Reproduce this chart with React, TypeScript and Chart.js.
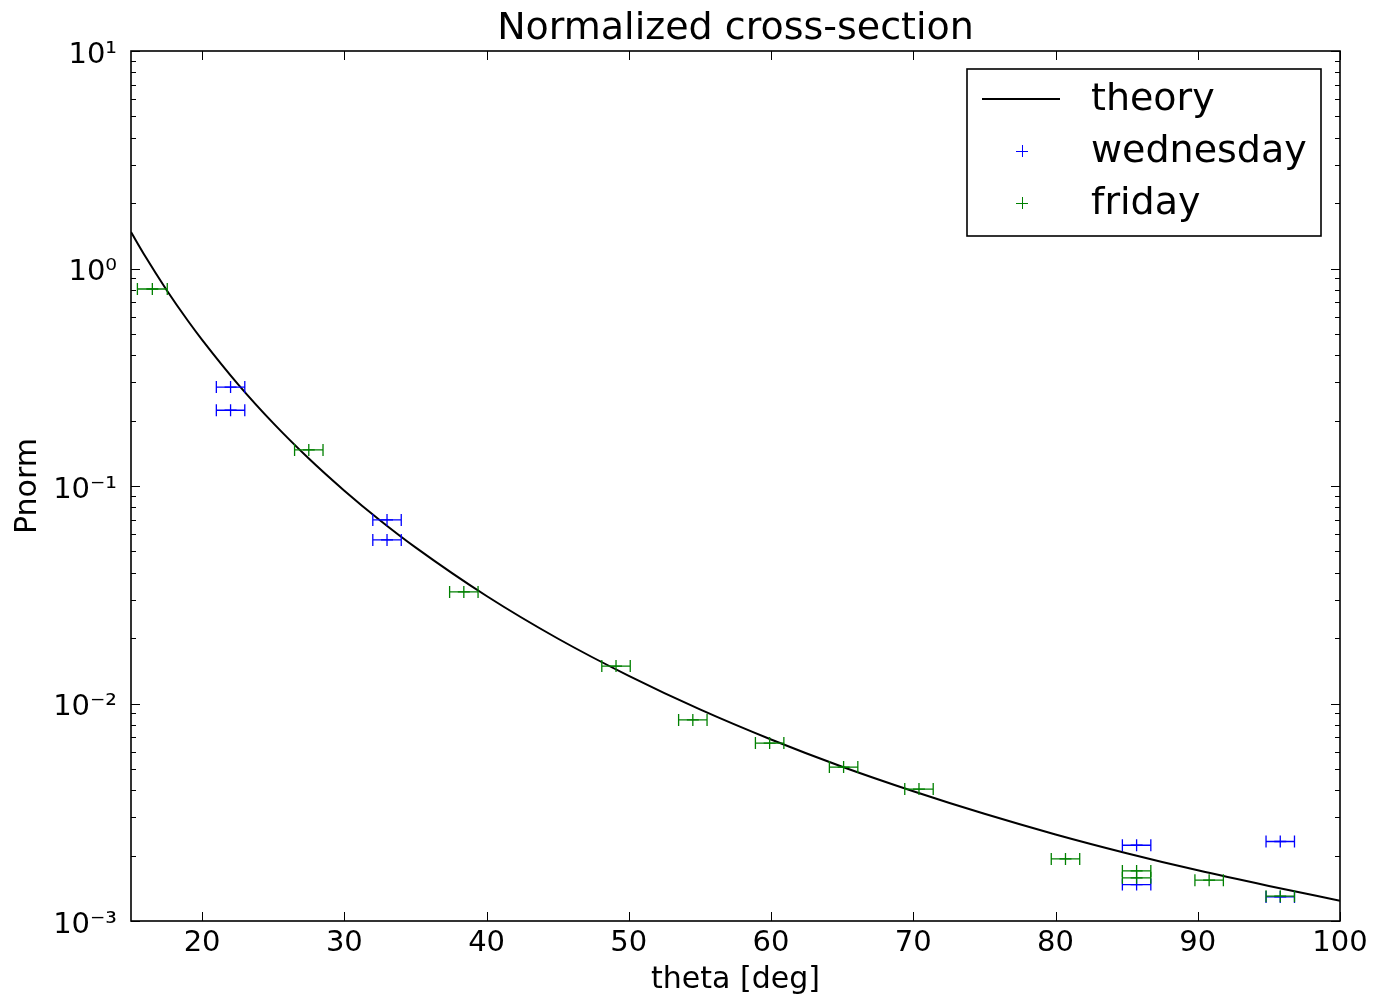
import React, { useEffect, useRef } from "react";
import { Chart, registerables } from "chart.js";

Chart.register(...registerables);

// ---- data ----
const TITLE = "Normalized cross-section";
const X_TICKS = [20, 30, 40, 50, 60, 70, 80, 90, 100];
const Y_TICKS = [0.001, 0.01, 0.1, 1, 10];
const Y_TICK_LABELS = ["10⁻³", "10⁻²", "10⁻¹", "10⁰", "10¹"];

const THEORY_X = [15, 16, 17.5, 19, 20, 22.5, 25, 27.5, 30, 32.5, 35, 40, 45, 50, 55, 60, 65, 70, 75, 80, 85, 90, 95, 100];
const THEORY_Y = [1.471, 1.138, 0.797, 0.575, 0.47, 0.295, 0.1946, 0.1338, 0.0952, 0.0696, 0.0522, 0.0312, 0.0199, 0.0134, 0.00939, 0.00683, 0.00512, 0.00395, 0.00311, 0.0025, 0.00205, 0.00171, 0.00145, 0.00124];

const WED_X = [22.0, 22.0, 33.0, 33.0, 85.7, 85.7, 95.8, 95.8];
const WED_Y = [0.285, 0.223, 0.0698, 0.0565, 0.00223, 0.00147, 0.00232, 0.00129];
const WED_XERR = [1, 1, 1, 1, 1, 1, 1, 1];

const FRI_X = [16.5, 27.5, 38.4, 49.1, 54.5, 59.9, 65.1, 70.4, 80.7, 85.7, 85.7, 90.8, 95.8];
const FRI_Y = [0.805, 0.1465, 0.0326, 0.01486, 0.0084, 0.00658, 0.0051, 0.00404, 0.00193, 0.0017, 0.00158, 0.00154, 0.0013];
const FRI_XERR = [1.05, 1, 1, 1, 1, 1, 1, 1, 1, 1, 1, 1, 1];

const BLUE = "#0000ff";
const GREEN = "#008000";
const FONT = "'DejaVu Sans', sans-serif";

const pts = (xs: number[], ys: number[]) => xs.map((x, i) => ({ x, y: ys[i] }));

const decorPlugin = {
  id: "decor",
  afterDatasetsDraw(chart: any) {
    const ctx = chart.ctx;
    const xs = chart.scales.x;
    const ys = chart.scales.y;
    chart.data.datasets.forEach((ds: any) => {
      if (!ds.xerr) return;
      ctx.save();
      ctx.strokeStyle = ds.borderColor;
      ctx.lineWidth = 1.3;
      ds.data.forEach((p: any, i: number) => {
        const e = ds.xerr[i];
        const x0 = xs.getPixelForValue(p.x - e);
        const x1 = xs.getPixelForValue(p.x + e);
        const y = ys.getPixelForValue(p.y);
        ctx.beginPath();
        ctx.moveTo(x0, y);
        ctx.lineTo(x1, y);
        ctx.moveTo(x0, y - 6);
        ctx.lineTo(x0, y + 6);
        ctx.moveTo(x1, y - 6);
        ctx.lineTo(x1, y + 6);
        ctx.stroke();
      });
      ctx.restore();
    });
  },
  afterDraw(chart: any) {
    const ctx = chart.ctx;
    const ca = chart.chartArea;
    const xs = chart.scales.x;
    const ys = chart.scales.y;
    ctx.save();
    // title
    ctx.fillStyle = "#000";
    ctx.font = `38px ${FONT}`;
    ctx.textAlign = "center";
    ctx.textBaseline = "middle";
    ctx.fillText(TITLE, (ca.left + ca.right) / 2, 29);

    ctx.strokeStyle = "#000";
    // ticks
    ctx.lineWidth = 1;
    ctx.beginPath();
    X_TICKS.forEach((v) => {
      const x = Math.round(xs.getPixelForValue(v)) + 0.5;
      ctx.moveTo(x, ca.bottom);
      ctx.lineTo(x, ca.bottom - 9);
      ctx.moveTo(x, ca.top);
      ctx.lineTo(x, ca.top + 9);
    });
    for (let d = -3; d <= 1; d++) {
      for (let m = 1; m <= 9; m++) {
        const v = m * Math.pow(10, d);
        if (v > 10 + 1e-9) continue;
        const y = Math.round(ys.getPixelForValue(v)) + 0.5;
        const len = m === 1 ? 9 : 5;
        ctx.moveTo(ca.left, y);
        ctx.lineTo(ca.left + len, y);
        ctx.moveTo(ca.right, y);
        ctx.lineTo(ca.right - len, y);
      }
    }
    ctx.stroke();
    // frame
    ctx.lineWidth = 1.6;
    ctx.strokeRect(ca.left, ca.top, ca.right - ca.left, ca.bottom - ca.top);

    // legend
    const w = 354;
    const h = 167;
    const lx = ca.right - 19 - w;
    const ly = ca.top + 18;
    ctx.fillStyle = "#fff";
    ctx.fillRect(lx, ly, w, h);
    ctx.lineWidth = 1.6;
    ctx.strokeRect(lx, ly, w, h);
    const rows = [
      { label: "theory", kind: "line", color: "#000" },
      { label: "wednesday", kind: "plus", color: BLUE },
      { label: "friday", kind: "plus", color: GREEN },
    ];
    rows.forEach((r, i) => {
      const cy = ly + 30 + i * 52;
      ctx.strokeStyle = r.color;
      if (r.kind === "line") {
        ctx.lineWidth = 2;
        ctx.beginPath();
        ctx.moveTo(lx + 15, cy);
        ctx.lineTo(lx + 93, cy);
        ctx.stroke();
      } else {
        ctx.lineWidth = 1;
        const cx = lx + 55;
        ctx.beginPath();
        ctx.moveTo(cx - 6, cy + 0.5);
        ctx.lineTo(cx + 6, cy + 0.5);
        ctx.moveTo(cx + 0.5, cy - 6);
        ctx.lineTo(cx + 0.5, cy + 6);
        ctx.stroke();
      }
      ctx.fillStyle = "#000";
      ctx.font = `38px ${FONT}`;
      ctx.textBaseline = "middle";
      ctx.textAlign = "left";
      ctx.fillText(r.label, lx + 124, cy + 1);
    });
    ctx.restore();
  },
};

export default function App() {
  const ref = useRef<HTMLCanvasElement | null>(null);
  useEffect(() => {
    if (!ref.current) return;
    const chart = new Chart(ref.current, {
      type: "scatter",
      data: {
        datasets: [
          {
            type: "line",
            label: "theory",
            data: pts(THEORY_X, THEORY_Y),
            borderColor: "#000",
            backgroundColor: "#000",
            borderWidth: 2,
            pointRadius: 0,
            showLine: true,
            fill: false,
            cubicInterpolationMode: "monotone",
            order: 3,
          } as any,
          {
            label: "wednesday",
            data: pts(WED_X, WED_Y),
            xerr: WED_XERR,
            borderColor: BLUE,
            backgroundColor: BLUE,
            pointStyle: "cross",
            pointRadius: 6,
            borderWidth: 1.3,
            order: 2,
          } as any,
          {
            label: "friday",
            data: pts(FRI_X, FRI_Y),
            xerr: FRI_XERR,
            borderColor: GREEN,
            backgroundColor: GREEN,
            pointStyle: "cross",
            pointRadius: 6,
            borderWidth: 1.3,
            order: 1,
          } as any,
        ],
      },
      options: {
        responsive: false,
        animation: false,
        devicePixelRatio: 1,
        layout: { padding: { left: 0, right: 39, top: 51, bottom: 0 } },
        plugins: {
          legend: { display: false },
          tooltip: { enabled: false },
          title: { display: false },
        },
        scales: {
          x: {
            type: "linear",
            min: 15,
            max: 100,
            afterBuildTicks: (s: any) => {
              s.ticks = X_TICKS.map((v) => ({ value: v }));
            },
            afterFit: (s: any) => {
              s.height = 77;
            },
            grid: { display: false, drawTicks: false },
            border: { display: false },
            ticks: {
              color: "#000",
              font: { family: FONT, size: 29 },
              padding: 5,
              maxRotation: 0,
              autoSkip: false,
            },
            title: {
              display: true,
              text: "theta [deg]",
              color: "#000",
              font: { family: FONT, size: 30 },
              padding: { top: 0, bottom: 0 },
            },
          },
          y: {
            type: "logarithmic",
            min: 0.001,
            max: 10,
            afterBuildTicks: (s: any) => {
              s.ticks = Y_TICKS.map((v) => ({ value: v }));
            },
            afterFit: (s: any) => {
              s.width = 131;
            },
            grid: { display: false, drawTicks: false },
            border: { display: false },
            ticks: {
              color: "#000",
              font: { family: FONT, size: 29 },
              padding: 14,
              labelOffset: 4,
              autoSkip: false,
              callback: (v: any) => {
                const i = Y_TICKS.findIndex((t) => Math.abs(Math.log10(t) - Math.log10(v)) < 1e-6);
                return i >= 0 ? Y_TICK_LABELS[i] : "";
              },
            },
            title: {
              display: true,
              text: "Pnorm",
              color: "#000",
              font: { family: FONT, size: 30 },
              padding: { top: 10, bottom: 0 },
            },
          },
        },
      },
      plugins: [decorPlugin],
    } as any);
    return () => chart.destroy();
  }, []);
  return (
    <div style={{ position: "absolute", left: 0, top: 0, width: 1379, height: 998, background: "#fff" }}>
      <canvas ref={ref} width={1379} height={998} style={{ display: "block" }} />
    </div>
  );
}
